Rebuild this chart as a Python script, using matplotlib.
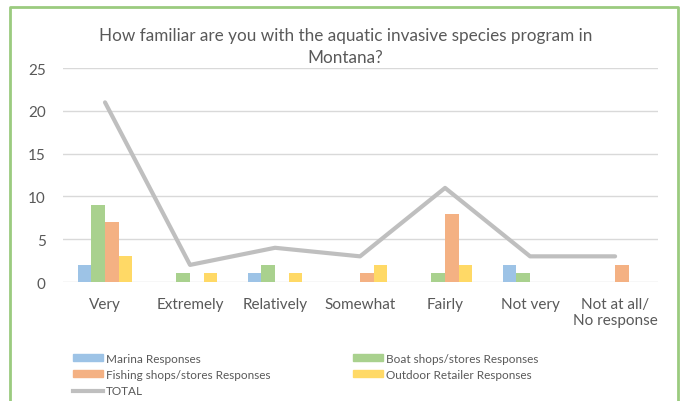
import numpy as np
import matplotlib
matplotlib.use("Agg")
import matplotlib.pyplot as plt
from matplotlib.patches import Patch
from matplotlib.lines import Line2D

categorias = ["Very", "Extremely", "Relatively", "Somewhat", "Fairly", "Not very", "Not at all/\nNo response"]
marina = [2, 0, 1, 0, 0, 2, 0]
boat = [9, 1, 2, 0, 1, 1, 0]
fishing = [7, 0, 0, 1, 8, 0, 2]
outdoor = [3, 1, 1, 2, 2, 0, 0]
total = [21, 2, 4, 3, 11, 3, 3]

series = [("Marina Responses", marina, "#9DC3E6"),
          ("Boat shops/stores Responses", boat, "#A9D18E"),
          ("Fishing shops/stores Responses", fishing, "#F4B183"),
          ("Outdoor Retailer Responses", outdoor, "#FFD966")]

plt.rcParams["font.family"] = ["Lato", "DejaVu Sans"]
txt = "#595959"

fig = plt.figure(figsize=(6.84, 4.02), dpi=100)
ax = fig.add_axes([0.0914, 0.296, 0.87, 0.532])

x = np.arange(len(categorias))
w = 0.16
for i, (nombre, vals, c) in enumerate(series):
    ax.bar(x + (i - 1.5) * w, vals, w, color=c, label=nombre, zorder=2)
ax.plot(x, total, color="#BFBFBF", lw=3, solid_capstyle="round", zorder=3, label="TOTAL")

ax.set_xlim(-0.5, len(categorias) - 0.5)
ax.set_ylim(0, 25)
ax.set_yticks(range(0, 26, 5))
ax.grid(axis="y", color="#D9D9D9", lw=1, zorder=0)
for s in ax.spines.values():
    s.set_visible(False)
ax.tick_params(length=0, colors=txt, labelsize=11)
ax.tick_params(axis="y", pad=12)
ax.tick_params(axis="x", pad=11)
ax.set_xticks(x)
ax.set_xticklabels(categorias)

fig.text(0.505, 0.883, "How familiar are you with the aquatic invasive species program in\nMontana?",
         ha="center", va="center", fontsize=12.3, color=txt, linespacing=1.4)

handles = [Patch(color="#9DC3E6"), Patch(color="#F4B183"),
           Line2D([], [], color="#BFBFBF", lw=3),
           Patch(color="#A9D18E"), Patch(color="#FFD966")]
labels = ["Marina Responses", "Fishing shops/stores Responses", "TOTAL",
          "Boat shops/stores Responses", "Outdoor Retailer Responses"]
fig.legend(handles, labels, ncol=2, loc="upper left", bbox_to_anchor=(0.107, 0.12),
           frameon=False, fontsize=8.5, labelcolor=txt, handlelength=2.5, handleheight=0.55,
           handletextpad=0.3, columnspacing=7.0, labelspacing=0.45, borderaxespad=0, borderpad=0)

# marco verde
g = "#9BCB7F"
fig.add_artist(Line2D([10/684, 10/684, 678/684, 678/684], [0, 1 - 8/402, 1 - 8/402, 0],
                      transform=fig.transFigure, color=g, lw=2))

fig.savefig("out.png", dpi=100)
